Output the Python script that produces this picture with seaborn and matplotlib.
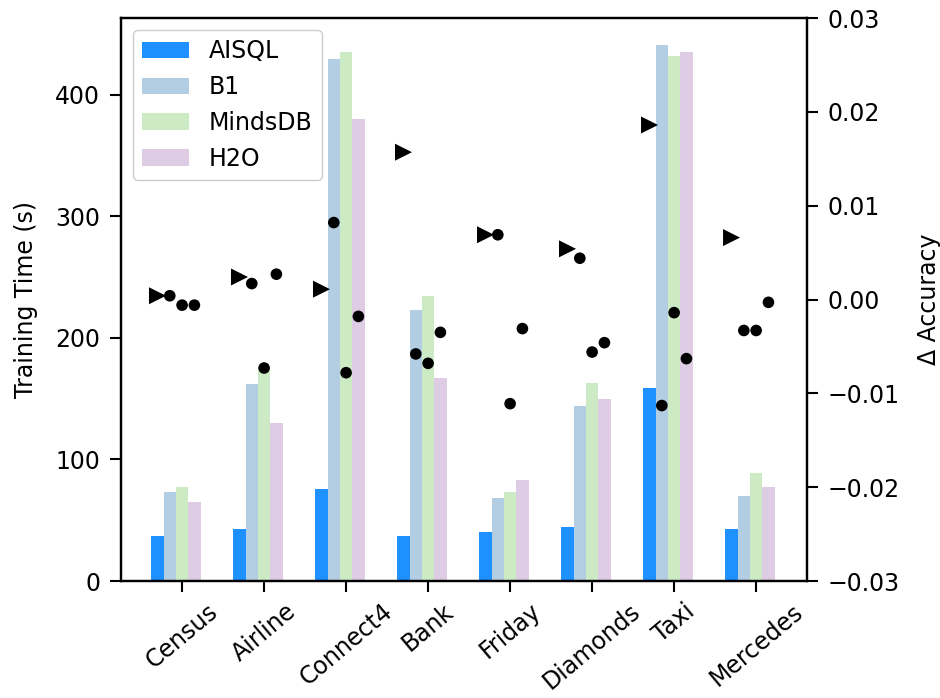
import pandas as pd
import numpy as np
import matplotlib
matplotlib.use("Agg")
import matplotlib.pyplot as plt
import seaborn as sns

# data
datasets = ["Census", "Airline", "Connect4", "Bank", "Friday", "Diamonds", "Taxi", "Mercedes"]
systems = ["AISQL", "B1", "MindsDB", "H2O"]

time_aisql = [37, 43, 75.5, 37, 40.5, 44.5, 159, 43]
time_b1 = [73, 162, 429, 223, 68, 144, 441, 70]
time_mindsdb = [77, 175, 435, 234.5, 73, 163, 432, 89]
time_h2o = [65, 130, 380, 167, 83, 150, 435.5, 77.5]

acc_aisql = [0.0004, 0.0024, 0.0011, 0.0157, 0.0069, 0.0054, 0.0186, 0.0066]
acc_b1 = [0.0004, 0.0017, 0.0082, -0.0058, 0.0069, 0.0044, -0.0113, -0.0033]
acc_mindsdb = [-0.0006, -0.0073, -0.0078, -0.0068, -0.0111, -0.0056, -0.0014, -0.0033]
acc_h2o = [-0.0006, 0.0027, -0.0018, -0.0035, -0.0031, -0.0046, -0.0063, -0.0003]

colors = {"AISQL": "#1e90ff", "B1": "#b3cde3", "MindsDB": "#ccebc5", "H2O": "#decbe4"}

sns.set_style("ticks")
plt.rcParams["font.family"] = ["DejaVu Sans"]
for k in ("text.color", "axes.labelcolor", "xtick.color", "ytick.color"):
    plt.rcParams[k] = "black"

FS = 17

idx = np.arange(len(datasets))
bar_w = 0.15
offsets = {"AISQL": -2 * bar_w, "B1": -bar_w, "MindsDB": 0.0, "H2O": bar_w}

times = {"AISQL": time_aisql, "B1": time_b1, "MindsDB": time_mindsdb, "H2O": time_h2o}
accs = {"AISQL": acc_aisql, "B1": acc_b1, "MindsDB": acc_mindsdb, "H2O": acc_h2o}

rows = []
for s in systems:
    for i, d in enumerate(datasets):
        rows.append({"pos": i + offsets[s], "dataset": d, "system": s,
                     "time": times[s][i], "acc": accs[s][i]})
df = pd.DataFrame(rows)

fig, ax = plt.subplots(figsize=(9.4, 6.98), dpi=100)
fig.subplots_adjust(left=0.1287, right=0.8585, top=0.9742, bottom=0.1676)

# group centre shifted so the MindsDB bar sits on the tick
df["grp"] = df["dataset"].map({d: i for i, d in enumerate(datasets)}) - bar_w / 2
sns.barplot(data=df, x="grp", y="time", hue="system", hue_order=systems,
            palette=colors, native_scale=True, width=0.6, errorbar=None,
            saturation=1, linewidth=0, ax=ax)

ax.set_ylim(bottom=0)
ax.set_xticks(idx)
ax.set_xticklabels(datasets, rotation=40, fontsize=FS)
ax.set_yticks([0, 100, 200, 300, 400])
ax.tick_params(axis="y", labelsize=FS, pad=7)
ax.tick_params(axis="x", pad=5)
ax.tick_params(length=8, width=1.5)
ax.set_xlabel("")
ax.set_ylabel("Training Time (s)", fontsize=FS, labelpad=12)

handles, labels = ax.get_legend_handles_labels()
ax.legend(handles, labels, loc="upper left", fontsize=FS, handlelength=2.0,
          framealpha=1, edgecolor="#cccccc")

ax2 = ax.twinx()
tri = df[df["system"] == "AISQL"]
dots = df[df["system"] != "AISQL"]
sns.scatterplot(data=tri, x="pos", y="acc", marker=">", s=150, color="black",
                edgecolor="none", ax=ax2, legend=False)
sns.scatterplot(data=dots, x="pos", y="acc", marker="o", s=70, color="black",
                edgecolor="none", ax=ax2, legend=False)
ax2.set_ylim(-0.03, 0.03)
ax2.set_yticks(np.round(np.arange(-0.03, 0.031, 0.01), 2))
ax2.tick_params(axis="y", labelsize=FS, length=8, width=1.5, pad=7)
ax2.set_xlabel("")
ax2.set_ylabel("Δ Accuracy", fontsize=FS, labelpad=12)

ax.set_xlim(-0.745, 7.62)

for a in (ax, ax2):
    for sp in a.spines.values():
        sp.set_visible(True)
        sp.set_color("black")
        sp.set_linewidth(1.6)

fig.savefig("out.png", dpi=100)
